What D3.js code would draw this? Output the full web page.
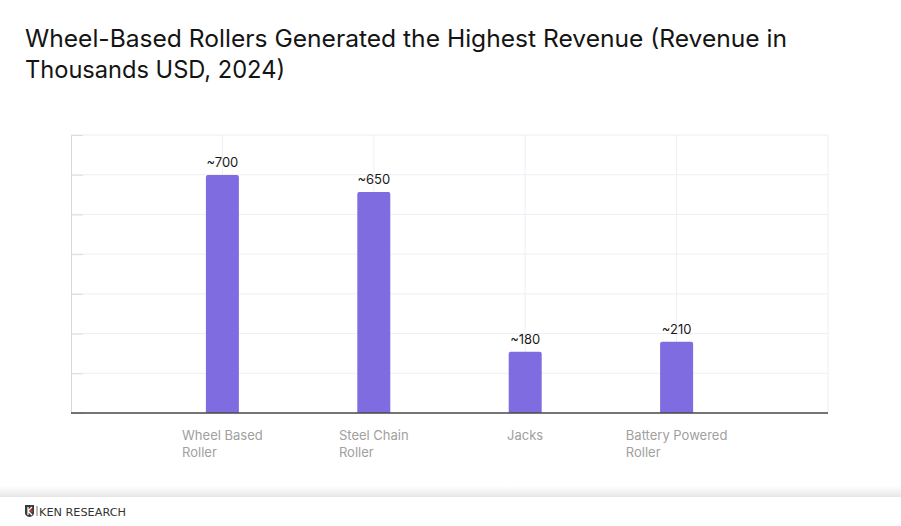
<!DOCTYPE html>
<html>
<head>
<meta charset="utf-8">
<script src="https://cdn.jsdelivr.net/npm/d3@7"></script>
<style>
  html, body { margin: 0; padding: 0; background: #ffffff; }
  svg { display: block; }
</style>
</head>
<body>
<svg id="chart" width="901" height="526"></svg>
<script>
// ---- data ----
const titleLines = ["Wheel-Based Rollers Generated the Highest Revenue (Revenue in", "Thousands USD, 2024)"];
const categories = ["Wheel Based Roller", "Steel Chain Roller", "Jacks", "Battery Powered Roller"];
const categoryLines = [["Wheel Based", "Roller"], ["Steel Chain", "Roller"], ["Jacks"], ["Battery Powered", "Roller"]];
const revenue = [700, 650, 180, 210];
const valueLabels = ["~700", "~650", "~180", "~210"];
const yMax = 818;
const gridCount = 7;

// ---- layout ----
const svg = d3.select("#chart");
const W = 901, H = 526;
const plot = { left: 71, right: 828, top: 135, bottom: 413 };
const font = "Inter, 'Noto Sans', sans-serif";

svg.append("rect").attr("width", W).attr("height", H).attr("fill", "#ffffff");

// title
const titleWidths = [762, 260];
svg.append("g").selectAll("text").data(titleLines).join("text")
  .attr("x", 25).attr("y", (d, i) => 47 + i * 31)
  .attr("font-family", font).attr("font-size", 24).attr("font-weight", 400)
  .attr("fill", "#141414")
  .attr("textLength", (d, i) => titleWidths[i]).attr("lengthAdjust", "spacingAndGlyphs")
  .text(d => d);

const x = d3.scalePoint().domain(categories).range([plot.left, plot.right]).padding(1);
const y = d3.scaleLinear().domain([0, yMax]).range([plot.bottom, plot.top]);
const gridVals = d3.range(gridCount + 1).map(i => yMax * i / gridCount);

// horizontal grid
svg.append("g").selectAll("line").data(gridVals).join("line")
  .attr("x1", plot.left).attr("x2", plot.right)
  .attr("y1", d => y(d)).attr("y2", d => y(d))
  .attr("stroke", "#eeeef6").attr("stroke-width", 1);

// vertical grid at categories and right edge
svg.append("g").selectAll("line").data(categories).join("line")
  .attr("x1", d => x(d)).attr("x2", d => x(d))
  .attr("y1", plot.top).attr("y2", plot.bottom)
  .attr("stroke", "#eeeef6").attr("stroke-width", 1);
svg.append("line").attr("x1", plot.right).attr("x2", plot.right)
  .attr("y1", plot.top).attr("y2", plot.bottom)
  .attr("stroke", "#eeeef6");

// left axis with inward ticks
const yAxis = d3.axisLeft(y).tickValues(gridVals).tickSize(-12).tickFormat("");
const gy = svg.append("g").attr("transform", `translate(${plot.left},0)`).call(yAxis);
gy.select(".domain").attr("stroke", "#d8d8d8");
gy.selectAll(".tick line").attr("stroke", "#dcdcdc");

// bars
const barW = 33;
svg.append("g").selectAll("path").data(categories).join("path")
  .attr("d", (d, i) => {
    const x0 = x(d) - barW / 2, x1 = x(d) + barW / 2, y0 = y(revenue[i]), yb = plot.bottom, r = 2;
    return `M${x0},${yb}V${y0 + r}Q${x0},${y0} ${x0 + r},${y0}H${x1 - r}Q${x1},${y0} ${x1},${y0 + r}V${yb}Z`;
  })
  .attr("fill", "#7f6ce0");

// value labels
svg.append("g").selectAll("text").data(categories).join("text")
  .attr("x", d => x(d)).attr("y", (d, i) => y(revenue[i]) - 8)
  .attr("text-anchor", "middle")
  .attr("font-family", font).attr("font-size", 13).attr("fill", "#1a1a1a")
  .text((d, i) => valueLabels[i]);

// baseline
svg.append("line").attr("x1", plot.left).attr("x2", plot.right)
  .attr("y1", plot.bottom).attr("y2", plot.bottom)
  .attr("stroke", "#4a4a4a").attr("stroke-width", 1.6);

// category labels (block centred, lines left-aligned)
const lab = svg.append("g");
categories.forEach((c, i) => {
  const t = lab.append("text").attr("font-family", font).attr("font-size", 13).attr("fill", "#a0a0a0");
  categoryLines[i].forEach((ln, j) => {
    t.append("tspan").attr("x", 0).attr("y", 440 + j * 16.5).text(ln);
  });
  const w = t.node().getBBox().width;
  t.attr("transform", `translate(${x(c) - w / 2},0)`);
});

// footer
const defs = svg.append("defs");
const grad = defs.append("linearGradient").attr("id", "shade").attr("x1", 0).attr("x2", 0).attr("y1", 0).attr("y2", 1);
grad.append("stop").attr("offset", "0%").attr("stop-color", "#ffffff");
grad.append("stop").attr("offset", "100%").attr("stop-color", "#e6e6e6");
svg.append("rect").attr("x", 0).attr("y", 486).attr("width", W).attr("height", 11).attr("fill", "url(#shade)");
svg.append("rect").attr("x", 0).attr("y", 497).attr("width", W).attr("height", 29).attr("fill", "#ffffff");

// logo
const logo = svg.append("g").attr("transform", "translate(25,505)");
logo.append("path").attr("d", "M0,0H9V8Q9,11 4.5,12Q0,11 0,8Z").attr("fill", "#3a3a3a");
logo.append("path").attr("d", "M3,2V10M3,6L7,2M3,6L7,10").attr("stroke", "#ffffff").attr("stroke-width", 1.3).attr("fill", "none");
logo.append("circle").attr("cx", 6.5).attr("cy", 6).attr("r", 1.3).attr("fill", "#d33");
logo.append("line").attr("x1", 12).attr("x2", 12).attr("y1", 1).attr("y2", 11).attr("stroke", "#555").attr("stroke-width", 0.8);
logo.append("text").attr("x", 14).attr("y", 10.5)
  .attr("font-family", "'DejaVu Sans', sans-serif").attr("font-size", 10).attr("fill", "#333")
  .attr("textLength", 87).attr("lengthAdjust", "spacingAndGlyphs")
  .text("KEN RESEARCH");
</script>
</body>
</html>
